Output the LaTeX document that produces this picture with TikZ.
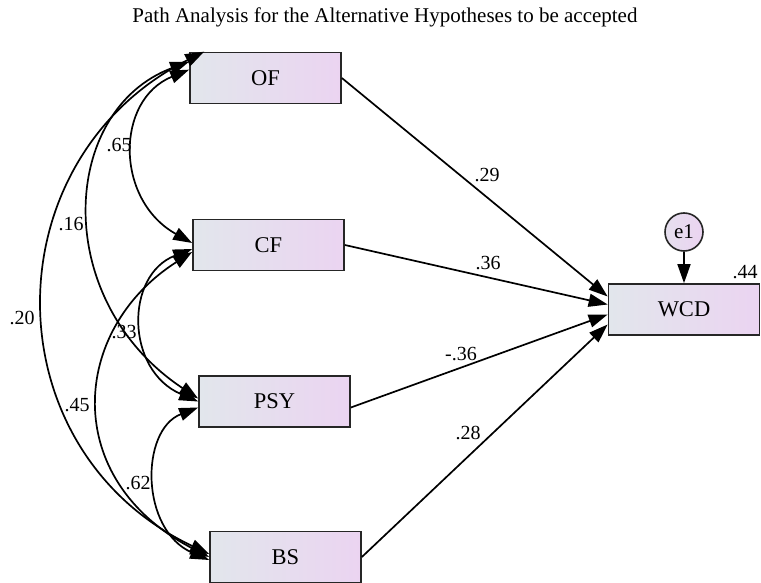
\documentclass[tikz,border=0pt]{standalone}
\usepackage{fontspec}
\setmainfont{Liberation Serif}
\usetikzlibrary{arrows.meta}
\definecolor{boxL}{HTML}{E2E6EC}
\definecolor{boxR}{HTML}{EBD4F1}
\tikzset{
  var/.style={draw=black!85, line width=1.7pt, left color=boxL, right color=boxR,
    minimum width=151pt, minimum height=51pt, inner sep=0pt,
    font=\fontsize{22.5}{26}\selectfont},
  err/.style={circle, draw=black!85, line width=1.6pt, left color=boxL!60!boxR, right color=boxR,
    minimum size=38pt, inner sep=0pt, font=\fontsize{21}{25}\selectfont},
  path/.style={line width=1.7pt, -{Triangle[length=19pt,width=13pt]}},
  cov/.style={line width=1.7pt, {Triangle[length=19pt,width=13pt]}-{Triangle[length=19pt,width=13pt]}},
  lab/.style={inner sep=0pt, font=\fontsize{20}{24}\selectfont},
}
\begin{document}
\begin{tikzpicture}[x=1pt,y=-1pt]
\useasboundingbox[fill=white] (0,0) rectangle (761,583);
\node[font=\fontsize{21}{25}\selectfont] (title) at (385,17) {Path Analysis for the Alternative Hypotheses to be accepted};
% variables
\node[var] (OF)  at (265.5,78)   {OF};
\node[var] (CF)  at (268.5,245)  {CF};
\node[var] (PSY) at (274.5,401.5){PSY};
\node[var] (BS)  at (285.5,557)  {BS};
\node[var] (WCD) at (684,309.5)  {WCD};
\node[err] (e1)  at (684,232)    {e1};
% paths
\draw[path] (OF.east) -- ([yshift=13pt]WCD.west);
\draw[path] (CF.east) -- ([yshift=5pt]WCD.west);
\draw[path] ([yshift=-6pt]PSY.east) -- ([yshift=-5pt]WCD.west);
\draw[path] (BS.east) -- ([yshift=-15pt]WCD.west);
\draw[path] (e1) -- (WCD.north);
% covariances
\draw[cov] ([yshift=-18pt]OF.north west) .. controls (115,100) and (115,200) .. ([yshift=2pt]CF.west);
\draw[cov] ([yshift=-10pt]OF.north west) .. controls (60,110) and (50,300) .. ([yshift=3pt]PSY.west);
\draw[cov] ([xshift=15pt]OF.north west) .. controls (-10,160) and (-10,450) .. ([yshift=3pt]BS.west);
\draw[cov] ([yshift=-4pt]CF.west) .. controls (125,275) and (125,370) .. (PSY.west);
\draw[cov] ([yshift=-7pt]CF.west) .. controls (70,330) and (60,480) .. ([yshift=0pt]BS.west);
\draw[cov] ([yshift=-6pt]PSY.west) .. controls (140,430) and (140,530) .. ([yshift=-3pt]BS.west);
% labels
\node[lab] (l1) at (487,175) {.29};
\node[lab] (l2) at (488,263) {.36};
\node[lab] (l3) at (461,354) {-.36};
\node[lab] (l4) at (468,433) {.28};
\node[lab] (l5) at (745,272) {.44};
\node[lab] (l6) at (119,145) {.65};
\node[lab] (l7) at (71,224)  {.16};
\node[lab] (l8) at (22,318)  {.20};
\node[lab] (l9) at (124,332) {.33};
\node[lab] (l10) at (77,405) {.45};
\node[lab] (l11) at (138,483) {.62};
\end{tikzpicture}
\end{document}
